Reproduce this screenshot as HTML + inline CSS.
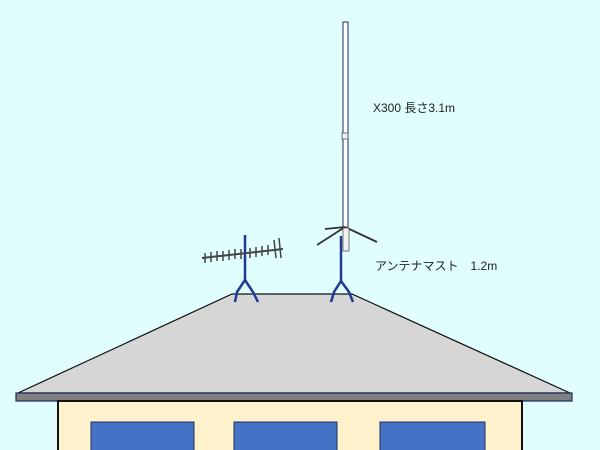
<!DOCTYPE html>
<html><head><meta charset="utf-8"><style>
html,body{margin:0;padding:0;background:#e1feff;}
svg{display:block;}
text{font-family:"Liberation Sans","Noto Sans CJK JP",sans-serif;font-size:12px;fill:#222;}
</style></head><body>
<svg width="600" height="450" viewBox="0 0 600 450">
<rect width="600" height="450" fill="#e1feff"/>
<!-- roof -->
<polygon points="18,393 232,294 352,294 570,393" fill="#d6d6d6" stroke="#111" stroke-width="1.2"/>
<rect x="16" y="393" width="556" height="8" fill="#808080" stroke="#1a2a60" stroke-width="1.2"/>
<rect x="58" y="401" width="464" height="52" fill="#fff2cc" stroke="#111" stroke-width="2"/>
<rect x="91" y="422" width="103" height="32" fill="#4472c4" stroke="#1f2f60" stroke-width="1"/>
<rect x="234" y="422" width="103" height="32" fill="#4472c4" stroke="#1f2f60" stroke-width="1"/>
<rect x="380" y="422" width="105" height="32" fill="#4472c4" stroke="#1f2f60" stroke-width="1"/>
<!-- left antenna -->
<g stroke="#1f3a93" stroke-width="2.5" fill="none">
<line x1="245" y1="235" x2="245" y2="282"/>
<path d="M245,280 L237,292 L235,302 M245,280 L253,292 L258,302"/>
</g>
<g stroke="#444" stroke-width="2">
<line x1="202" y1="258" x2="283" y2="249"/>
</g>
<g stroke="#444" stroke-width="1.5">
<line x1="205" y1="253" x2="205" y2="263"/><line x1="211" y1="252" x2="211" y2="262"/>
<line x1="217" y1="251" x2="217" y2="261"/><line x1="223" y1="251" x2="223" y2="261"/>
<line x1="229" y1="250" x2="229" y2="260"/><line x1="235" y1="249" x2="235" y2="259"/>
<line x1="241" y1="249" x2="241" y2="259"/><line x1="250" y1="248" x2="250" y2="258"/>
<line x1="256" y1="247" x2="256" y2="257"/><line x1="262" y1="246" x2="262" y2="256"/>
<line x1="268" y1="245" x2="268" y2="255"/><line x1="274" y1="240" x2="276" y2="258"/>
<line x1="279" y1="238" x2="281" y2="258"/>
</g>
<!-- vertical antenna -->
<rect x="343" y="22" width="5" height="206" fill="#fff" stroke="#1a2a60" stroke-width="1"/>
<rect x="342" y="133" width="6" height="6" fill="#eee" stroke="#555" stroke-width="0.8"/>
<g stroke="#333" stroke-width="1.8">
<line x1="345" y1="227" x2="325" y2="229"/>
<line x1="345" y1="227" x2="317" y2="245"/>
<line x1="345" y1="227" x2="377" y2="242"/>
</g>
<g stroke="#1f3a93" stroke-width="2.5" fill="none">
<line x1="341" y1="236" x2="341" y2="283"/>
<path d="M341,281 L334,292 L331,302 M341,281 L349,292 L353,302"/>
</g>
<rect x="343" y="228" width="6" height="23" fill="#f2f2f2" stroke="#555" stroke-width="0.8"/>
<text x="373" y="112">X300  長さ3.1m</text>
<text x="375" y="270">アンテナマスト　1.2m</text>
</svg>
</body></html>
